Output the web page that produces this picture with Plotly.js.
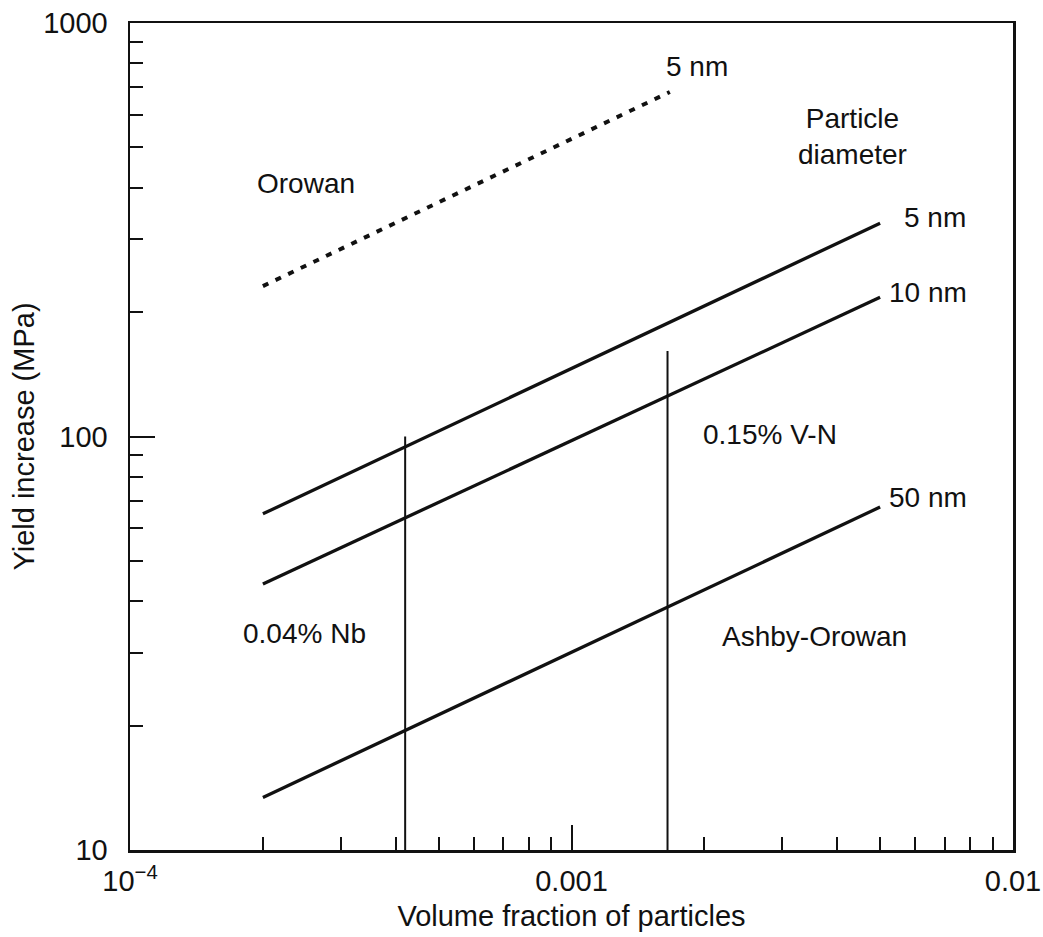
<!DOCTYPE html>
<html>
<head>
<meta charset="utf-8">
<script src="https://cdn.plot.ly/plotly-3.0.1.min.js"></script>
<style>
html,body{margin:0;padding:0;background:#fff;}
#chart{width:1043px;height:937px;}
</style>
</head>
<body>
<div id="chart"></div>
<script>
// ---- data ----
const xRange = [1e-4, 1e-2];          // volume fraction
const yRange = [10, 1000];            // MPa

// Ashby-Orowan lines for particle diameters (end points)
const ashbyX   = [2e-4, 5e-3];
const ashby5   = [65, 328];
const ashby10  = [44, 217];
const ashby50  = [13.4, 67.5];

// Orowan (5 nm) dotted line
const orowanX  = [2e-4, 1.67e-3];
const orowan5  = [231, 681];

// Vertical composition lines
const nbX  = [4.2e-4, 4.2e-4];
const nbY  = [10, 100];
const vnX  = [1.65e-3, 1.65e-3];
const vnY  = [10, 161];

// tick labels
const xTickVals = [1e-4, 1e-3, 1e-2];
const xTickText = ['10<sup>\u22124</sup>', '0.001', '0.01'];
const yTickVals = [10, 100, 1000];
const yTickText = ['10', '100', '1000'];

const FONT = 'Liberation Sans, Arial, Helvetica, sans-serif';
const INK = '#111';

const solid = {color: INK, width: 3.3};
const traces = [
  {x: ashbyX, y: ashby5,  mode: 'lines', line: solid, name: '5 nm'},
  {x: ashbyX, y: ashby10, mode: 'lines', line: solid, name: '10 nm'},
  {x: ashbyX, y: ashby50, mode: 'lines', line: solid, name: '50 nm'},
  {x: orowanX, y: orowan5, mode: 'lines', line: {color: INK, width: 4, dash: '6px,8px'}, name: 'Orowan 5 nm'},
  {x: nbX, y: nbY, mode: 'lines', line: {color: INK, width: 2}, name: '0.04% Nb'},
  {x: vnX, y: vnY, mode: 'lines', line: {color: INK, width: 2}, name: '0.15% V-N'}
];

// paper-coordinate helper based on plot area (130..1013, 23..850)
const L = 130, R = 1013, T = 23, B = 850;
const px = v => (v - L) / (R - L);
const py = v => (B - v) / (B - T);

function ann(text, x, y) {
  return {text: text, xref: 'paper', yref: 'paper', x: px(x), y: py(y),
          xanchor: 'center', yanchor: 'middle', showarrow: false,
          font: {family: FONT, size: 28, color: INK}};
}

const annotations = [
  ann('5 nm', 697, 66),
  ann('Particle<br>diameter', 852, 137),
  ann('5 nm', 935, 217),
  ann('10 nm', 928, 292),
  ann('50 nm', 928, 497),
  ann('Orowan', 306, 183),
  ann('0.15% V-N', 770, 434),
  ann('0.04% Nb', 304, 634),
  ann('Ashby-Orowan', 814, 636)
];

const axisCommon = {
  type: 'log',
  showgrid: false,
  zeroline: false,
  showline: true,
  linecolor: INK,
  linewidth: 2.5,
  mirror: true,
  ticks: 'inside',
  ticklen: 25,
  tickwidth: 2,
  tickcolor: INK,
  tickfont: {family: FONT, size: 29, color: INK},
  minor: {ticks: 'inside', ticklen: 13, tickwidth: 2, tickcolor: INK, dtick: 'D1', showgrid: false}
};

const layout = {
  width: 1043, height: 937,
  margin: {l: L, r: 1043 - R, t: T, b: 937 - B},
  paper_bgcolor: '#fff', plot_bgcolor: '#fff',
  showlegend: false,
  xaxis: Object.assign({}, axisCommon, {
    range: [Math.log10(xRange[0]), Math.log10(xRange[1])],
    tickmode: 'array', tickvals: xTickVals, ticktext: xTickText,
    ticklabelstandoff: 4,
    title: {text: 'Volume fraction of particles', font: {family: FONT, size: 29, color: INK}, standoff: 10}
  }),
  yaxis: Object.assign({}, axisCommon, {
    range: [Math.log10(yRange[0]), Math.log10(yRange[1])],
    tickmode: 'array', tickvals: yTickVals, ticktext: yTickText,
    ticklabelstandoff: 14,
    title: {text: 'Yield increase (MPa)', font: {family: FONT, size: 29, color: INK}, standoff: 0}
  }),
  annotations: annotations
};

Plotly.newPlot('chart', traces, layout, {staticPlot: true, displayModeBar: false});
</script>
</body>
</html>
